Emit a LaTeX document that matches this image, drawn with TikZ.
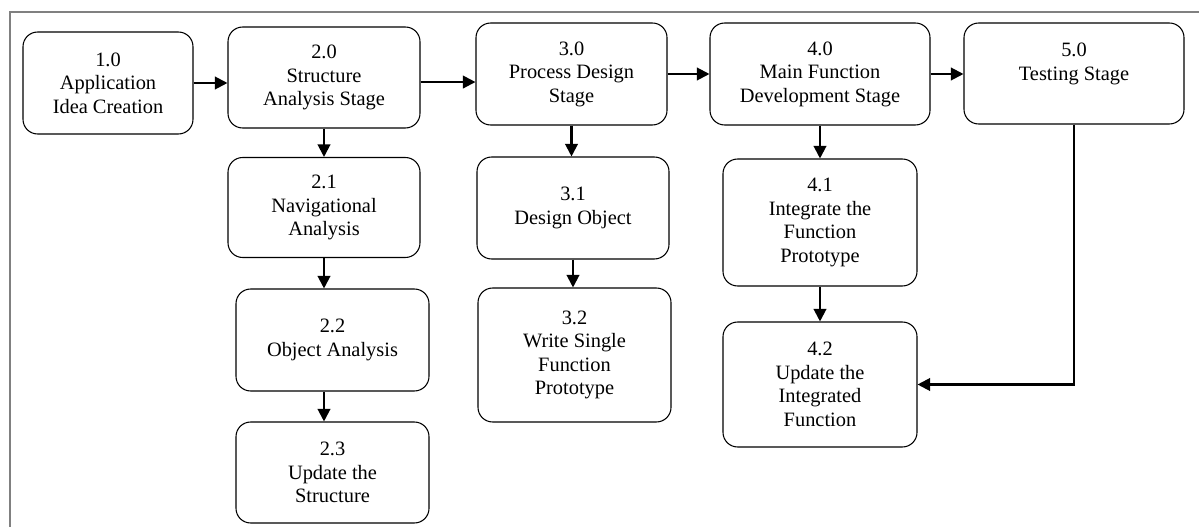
\documentclass[tikz,border=0pt]{standalone}
\usepackage{fontspec}
\setmainfont{Liberation Serif}
\usepackage{tikz}
\usetikzlibrary{arrows.meta}
\tikzset{>/.tip={Triangle[length=9.5pt,width=9.5pt]}}
\tikzset{stagebox/.style 2 args={draw, rounded corners=11pt, line width=0.8pt, align=center,
  inner sep=0pt, minimum width=#1*0.75pt, minimum height=#2*0.75pt,
  font=\fontsize{15.3}{17.6}\selectfont}}

\begin{document}
\begin{tikzpicture}[x=0.75pt, y=-0.75pt, line width=1.6pt]
\useasboundingbox (0,0) rectangle (1199,527);
\draw[gray, line width=1pt] (10,527) -- (10,12) -- (1199,12);

\node[stagebox={170}{102}] (s10) at (108,83)    {1.0\\Application\\Idea Creation};
\node[stagebox={192}{101}] (s20) at (324,77.5)  {2.0\\Structure\\Analysis Stage};
\node[stagebox={192}{100}] (s21) at (324,207.5) {2.1\\Navigational\\Analysis};
\node[stagebox={193}{102}] (s22) at (332.5,340) {2.2\\Object Analysis};
\node[stagebox={193}{101}] (s23) at (332.5,472.5) {2.3\\Update the\\Structure};
\node[stagebox={191}{102}] (s30) at (571.5,74)  {3.0\\Process Design\\Stage};
\node[stagebox={192}{102}] (s31) at (573,208)   {3.1\\Design Object};
\node[stagebox={193}{134}] (s32) at (574.5,355) {3.2\\Write Single\\Function\\Prototype};
\node[stagebox={220}{102}] (s40) at (820,74)    {4.0\\Main Function\\Development Stage};
\node[stagebox={194}{127}] (s41) at (820,222.5) {4.1\\Integrate the\\Function\\Prototype};
\node[stagebox={194}{125}] (s42) at (820,384.5) {4.2\\Update the\\Integrated\\Function};
\node[stagebox={220}{101}] (s50) at (1074,73.5) {5.0\\Testing Stage\\\mbox{}};

% stages in a row
\draw[->] (s10.east) -- (s10.east -| s20.west);
\draw[->] ([yshift=-3.4pt]s20.east) -- ([yshift=-3.4pt]s20.east -| s30.west);
\draw[->] (s30.east) -- (s30.east -| s40.west);
\draw[->] (s40.east) -- (s40.east -| s50.west);

% sub steps
\draw[->] (s20.south) -- (s21.north);
\draw[->] (s21.south) -- (s21.south |- s22.north);
\draw[->] (s22.south -| s21) -- (s23.north -| s21);
\draw[->] (s30.south) -- (s30.south |- s31.north);
\draw[->] (s31.south) -- (s31.south |- s32.north);
\draw[->] (s40.south) -- (s41.north);
\draw[->] (s41.south) -- (s42.north);
\draw[->] (s50.south) |- (s42.east);
\end{tikzpicture}
\end{document}
